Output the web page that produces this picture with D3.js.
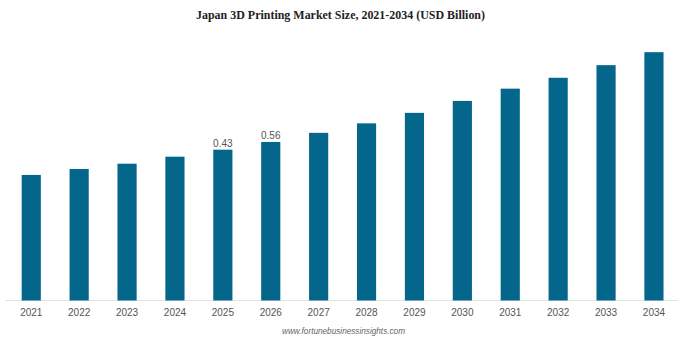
<!DOCTYPE html>
<html>
<head>
<meta charset="utf-8">
<script src="https://cdn.jsdelivr.net/npm/d3@7"></script>
<style>
  body { margin: 0; background: #fff; }
  svg { display: block; }
</style>
</head>
<body>
<svg id="chart" width="680" height="339"></svg>
<script>
// years and estimated market size (USD billion)
var years  = ["2021","2022","2023","2024","2025","2026","2027","2028","2029","2030","2031","2032","2033","2034"];
var values = [0.358, 0.375, 0.390, 0.410, 0.430, 0.452, 0.478, 0.505, 0.535, 0.569, 0.604, 0.635, 0.671, 0.708];
// only two bars carry a printed label
var labels = {"2025": "0.43", "2026": "0.56"};

var svg = d3.select("#chart");
var baseY = 300.5;

var x = d3.scaleBand().domain(years).range([7.3, 677.9]).paddingInner(0.6).paddingOuter(0.3);
var y = d3.scaleLinear().domain([0, 0.8]).range([baseY, 19.9]);

// title is slightly condensed in the original
svg.append("text")
    .attr("x", 340.5).attr("y", 19)
    .attr("text-anchor", "middle")
    .attr("textLength", 289)
    .attr("lengthAdjust", "spacingAndGlyphs")
    .style("font-family", "'Liberation Serif', 'Times New Roman', serif")
    .style("font-weight", "bold")
    .style("font-size", "12.7px")
    .attr("fill", "#222")
    .text("Japan 3D Printing Market Size, 2021-2034 (USD Billion)");

svg.append("line")
    .attr("x1", 5).attr("x2", 678)
    .attr("y1", baseY).attr("y2", baseY)
    .attr("stroke", "#e3e3e3").attr("stroke-width", 1);

svg.selectAll("rect.bar")
    .data(years)
    .enter().append("rect")
        .attr("class", "bar")
        .attr("x", function(d){ return x(d); })
        .attr("width", x.bandwidth())
        .attr("y", function(d, i){ return y(values[i]); })
        .attr("height", function(d, i){ return baseY - y(values[i]); })
        .attr("fill", "#05668c");

svg.selectAll("text.vlabel")
    .data(years.filter(function(d){ return labels[d]; }))
    .enter().append("text")
        .attr("class", "vlabel")
        .attr("x", function(d){ return x(d) + x.bandwidth()/2; })
        .attr("y", function(d){ return y(values[years.indexOf(d)]) - 3; })
        .attr("text-anchor", "middle")
        .style("font-family", "'Liberation Sans', Arial, sans-serif")
        .style("font-size", "10px")
        .attr("fill", "#555")
        .text(function(d){ return labels[d]; });

var xAxis = svg.append("g")
    .attr("transform", "translate(0," + baseY + ")")
    .call(d3.axisBottom(x).tickSize(0).tickPadding(8));
xAxis.select(".domain").remove();
xAxis.selectAll("text")
    .style("font-family", "'Liberation Sans', Arial, sans-serif")
    .style("font-size", "10px")
    .attr("fill", "#555");

svg.append("text")
    .attr("x", 343.5).attr("y", 334)
    .attr("text-anchor", "middle")
    .attr("textLength", 123)
    .attr("lengthAdjust", "spacingAndGlyphs")
    .style("font-family", "'Liberation Sans', Arial, sans-serif")
    .style("font-style", "italic")
    .style("font-size", "9px")
    .attr("fill", "#666")
    .text("www.fortunebusinessinsights.com");
</script>
</body>
</html>
